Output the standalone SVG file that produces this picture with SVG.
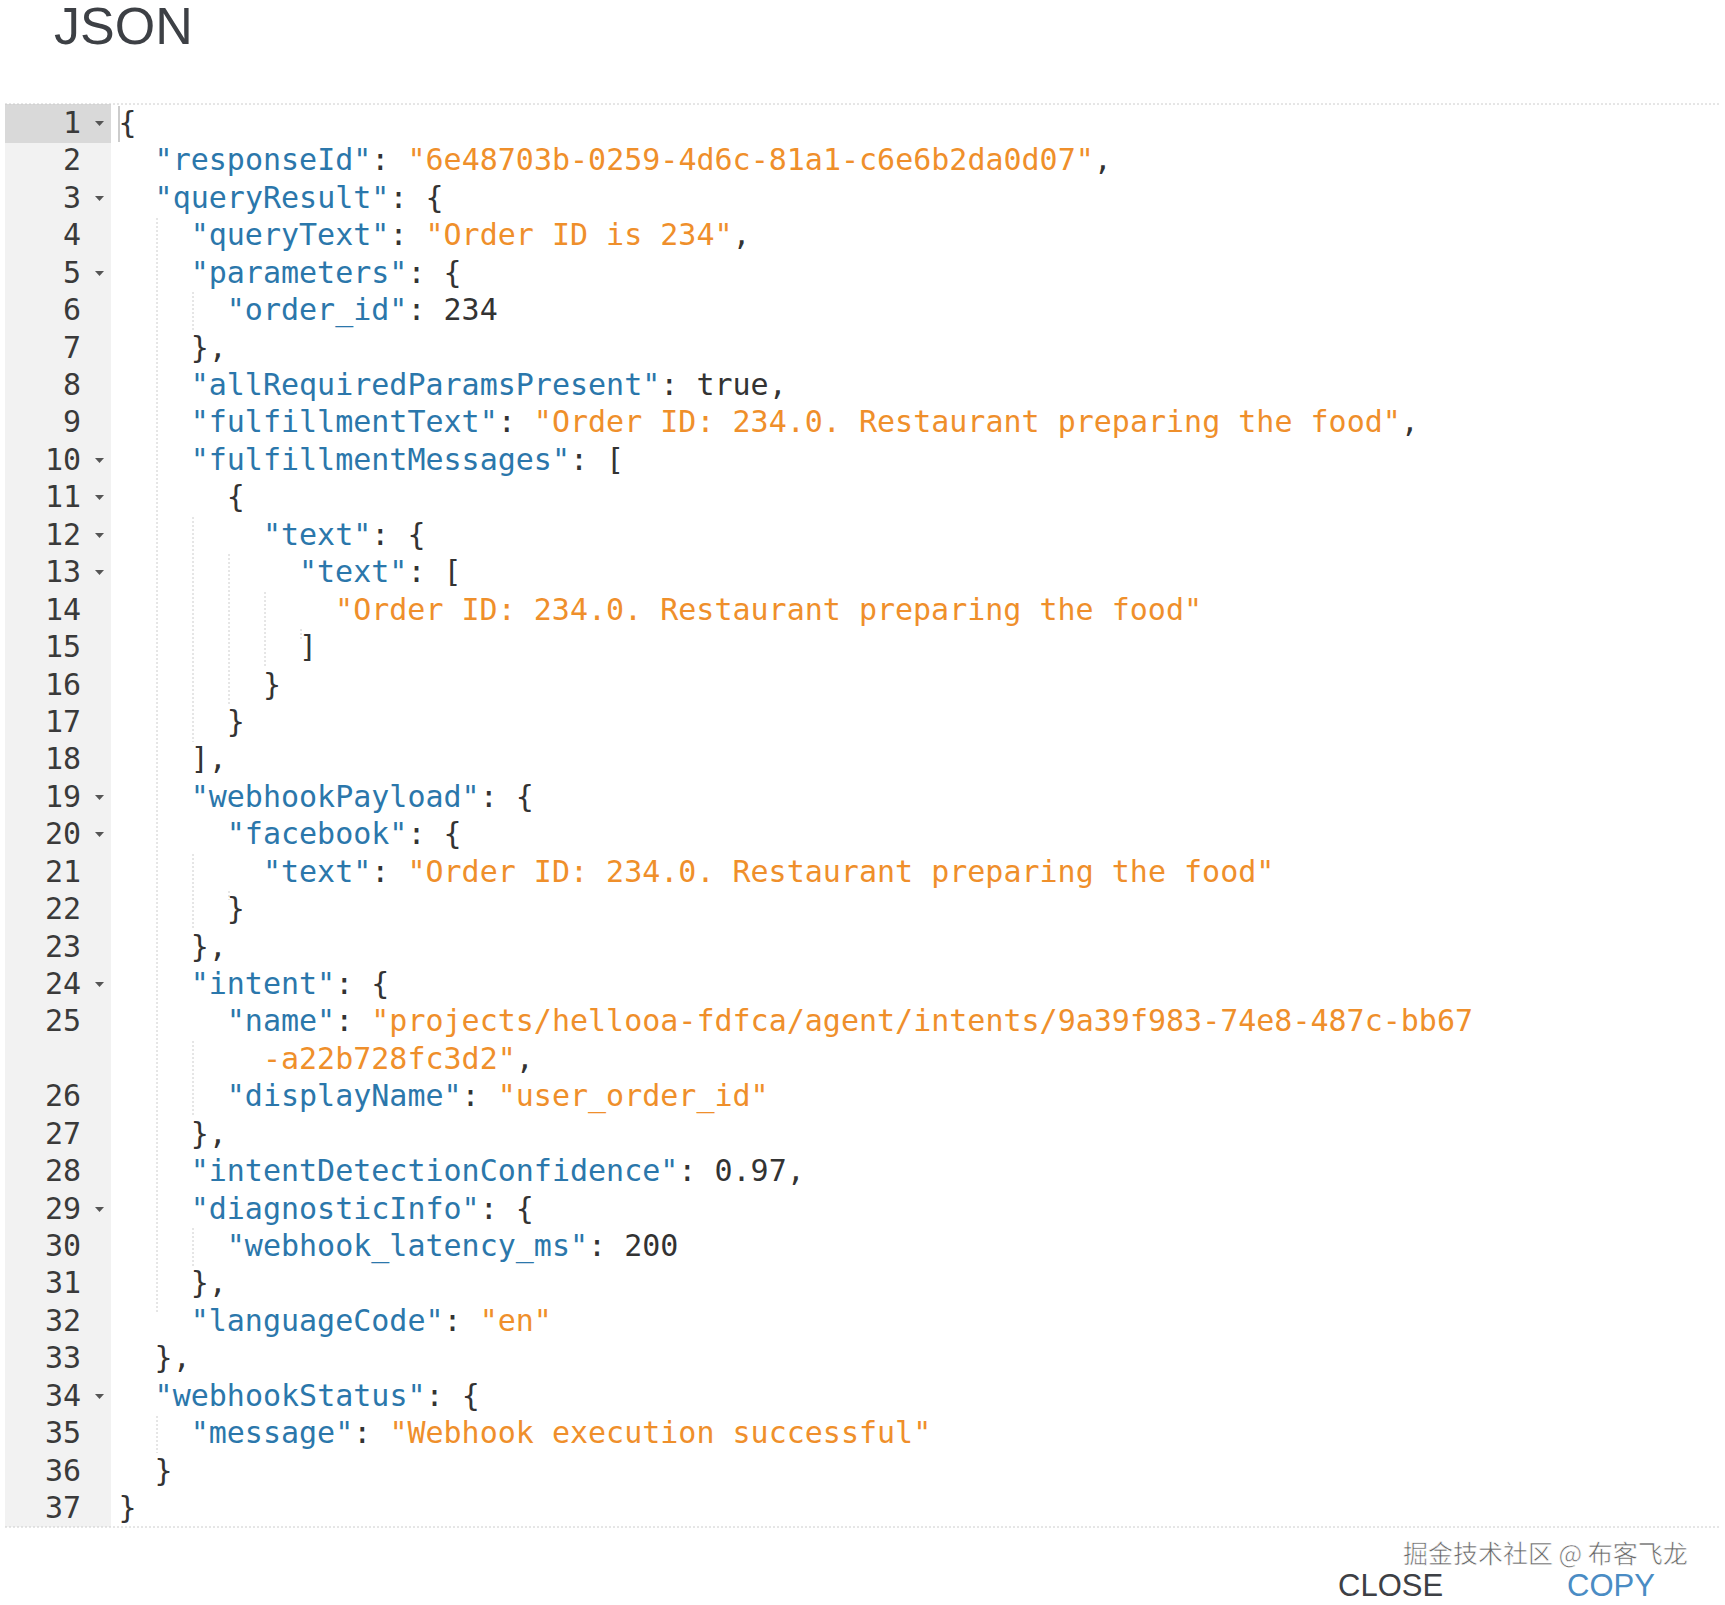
<svg xmlns="http://www.w3.org/2000/svg" width="1725" height="1605" viewBox="0 0 1725 1605">
<style>
text{font-family:"DejaVu Sans Mono","Liberation Mono",monospace;font-size:30px;white-space:pre;fill:#333}
.k{fill:#2b77ab}.s{fill:#ef8f2b}
.n{text-anchor:end;fill:#3a3a3a}
.ui{font-family:"Liberation Sans",Arial,sans-serif}
.g{stroke:#ccc;stroke-width:1;stroke-dasharray:2 2}
</style>
<rect width="1725" height="1605" fill="#fff"/>
<text class="ui" x="54" y="44" style="font-size:52px;fill:#3d4045">JSON</text>
<g id="editor">
<rect x="5" y="104" width="106" height="1423" fill="#f2f2f2"/>
<rect x="5" y="104" width="106" height="39" fill="#d9d9d9"/>
<line x1="5" y1="104" x2="1720" y2="104" class="g"/>
<line x1="5" y1="1527" x2="1720" y2="1527" class="g"/>
<line x1="119" y1="106" x2="119" y2="142" stroke="#ccc" stroke-width="2"/>
<g class="g">
<line x1="157" y1="218" x2="157" y2="1312"/>
<line x1="193" y1="292" x2="193" y2="330"/>
<line x1="193" y1="517" x2="193" y2="742"/>
<line x1="229" y1="554" x2="229" y2="705"/>
<line x1="265" y1="592" x2="265" y2="667"/>
<line x1="301" y1="629" x2="301" y2="640"/>
<line x1="193" y1="854" x2="193" y2="929"/>
<line x1="229" y1="891" x2="229" y2="900"/>
<line x1="193" y1="1041" x2="193" y2="1116"/>
<line x1="193" y1="1228" x2="193" y2="1266"/>
<line x1="157" y1="1416" x2="157" y2="1453"/>
</g>
</g>
<g id="numbers">
<text class="n" x="81" y="133">1</text><text class="n" x="81" y="170.4">2</text><text class="n" x="81" y="207.9">3</text><text class="n" x="81" y="245.3">4</text><text class="n" x="81" y="282.7">5</text><text class="n" x="81" y="320.2">6</text><text class="n" x="81" y="357.6">7</text><text class="n" x="81" y="395">8</text><text class="n" x="81" y="432.4">9</text><text class="n" x="81" y="469.9">10</text><text class="n" x="81" y="507.3">11</text><text class="n" x="81" y="544.7">12</text><text class="n" x="81" y="582.2">13</text><text class="n" x="81" y="619.6">14</text><text class="n" x="81" y="657">15</text><text class="n" x="81" y="694.5">16</text><text class="n" x="81" y="731.9">17</text><text class="n" x="81" y="769.3">18</text><text class="n" x="81" y="806.7">19</text><text class="n" x="81" y="844.2">20</text><text class="n" x="81" y="881.6">21</text><text class="n" x="81" y="919">22</text><text class="n" x="81" y="956.5">23</text><text class="n" x="81" y="993.9">24</text><text class="n" x="81" y="1031.3">25</text><text class="n" x="81" y="1106.2">26</text><text class="n" x="81" y="1143.6">27</text><text class="n" x="81" y="1181">28</text><text class="n" x="81" y="1218.5">29</text><text class="n" x="81" y="1255.9">30</text><text class="n" x="81" y="1293.3">31</text><text class="n" x="81" y="1330.8">32</text><text class="n" x="81" y="1368.2">33</text><text class="n" x="81" y="1405.6">34</text><text class="n" x="81" y="1443.1">35</text><text class="n" x="81" y="1480.5">36</text><text class="n" x="81" y="1517.9">37</text>
</g>
<g id="folds" fill="#555">
<path d="M95 121h9l-4.5 5z"/><path d="M95 196h9l-4.5 5z"/><path d="M95 271h9l-4.5 5z"/><path d="M95 458h9l-4.5 5z"/><path d="M95 495h9l-4.5 5z"/><path d="M95 533h9l-4.5 5z"/><path d="M95 570h9l-4.5 5z"/><path d="M95 795h9l-4.5 5z"/><path d="M95 832h9l-4.5 5z"/><path d="M95 982h9l-4.5 5z"/><path d="M95 1207h9l-4.5 5z"/><path d="M95 1394h9l-4.5 5z"/>
</g>
<g id="code">
<text x="118.5" y="133">{</text>
<text x="154.6" y="170.4"><tspan class="k">"responseId"</tspan>: <tspan class="s">"6e48703b-0259-4d6c-81a1-c6e6b2da0d07"</tspan>,</text>
<text x="154.6" y="207.9"><tspan class="k">"queryResult"</tspan>: {</text>
<text x="190.7" y="245.3"><tspan class="k">"queryText"</tspan>: <tspan class="s">"Order ID is 234"</tspan>,</text>
<text x="190.7" y="282.7"><tspan class="k">"parameters"</tspan>: {</text>
<text x="226.8" y="320.2"><tspan class="k">"order_id"</tspan>: 234</text>
<text x="190.7" y="357.6">},</text>
<text x="190.7" y="395"><tspan class="k">"allRequiredParamsPresent"</tspan>: true,</text>
<text x="190.7" y="432.4"><tspan class="k">"fulfillmentText"</tspan>: <tspan class="s">"Order ID: 234.0. Restaurant preparing the food"</tspan>,</text>
<text x="190.7" y="469.9"><tspan class="k">"fulfillmentMessages"</tspan>: [</text>
<text x="226.8" y="507.3">{</text>
<text x="262.9" y="544.7"><tspan class="k">"text"</tspan>: {</text>
<text x="299" y="582.2"><tspan class="k">"text"</tspan>: [</text>
<text x="335.1" y="619.6" class="s">"Order ID: 234.0. Restaurant preparing the food"</text>
<text x="299" y="657">]</text>
<text x="262.9" y="694.5">}</text>
<text x="226.8" y="731.9">}</text>
<text x="190.7" y="769.3">],</text>
<text x="190.7" y="806.7"><tspan class="k">"webhookPayload"</tspan>: {</text>
<text x="226.8" y="844.2"><tspan class="k">"facebook"</tspan>: {</text>
<text x="262.9" y="881.6"><tspan class="k">"text"</tspan>: <tspan class="s">"Order ID: 234.0. Restaurant preparing the food"</tspan></text>
<text x="226.8" y="919">}</text>
<text x="190.7" y="956.5">},</text>
<text x="190.7" y="993.9"><tspan class="k">"intent"</tspan>: {</text>
<text x="226.8" y="1031.3"><tspan class="k">"name"</tspan>: <tspan class="s">"projects/hellooa-fdfca/agent/intents/9a39f983-74e8-487c-bb67</tspan></text>
<text x="262.9" y="1068.8"><tspan class="s">-a22b728fc3d2"</tspan>,</text>
<text x="226.8" y="1106.2"><tspan class="k">"displayName"</tspan>: <tspan class="s">"user_order_id"</tspan></text>
<text x="190.7" y="1143.6">},</text>
<text x="190.7" y="1181"><tspan class="k">"intentDetectionConfidence"</tspan>: 0.97,</text>
<text x="190.7" y="1218.5"><tspan class="k">"diagnosticInfo"</tspan>: {</text>
<text x="226.8" y="1255.9"><tspan class="k">"webhook_latency_ms"</tspan>: 200</text>
<text x="190.7" y="1293.3">},</text>
<text x="190.7" y="1330.8"><tspan class="k">"languageCode"</tspan>: <tspan class="s">"en"</tspan></text>
<text x="154.6" y="1368.2">},</text>
<text x="154.6" y="1405.6"><tspan class="k">"webhookStatus"</tspan>: {</text>
<text x="190.7" y="1443.1"><tspan class="k">"message"</tspan>: <tspan class="s">"Webhook execution successful"</tspan></text>
<text x="154.6" y="1480.5">}</text>
<text x="118.5" y="1517.9">}</text>
</g>
<g id="footer">
<text x="1403" y="1563" style="font-family:'Noto Sans CJK SC',sans-serif;font-size:25px;fill:#666;stroke:#fff;stroke-width:0.6">掘金技术社区 @ 布客飞龙</text>
<text class="ui" x="1338" y="1596" style="font-size:31px;fill:#3d4045">CLOSE</text>
<text class="ui" x="1567" y="1596" style="font-size:31px;fill:#4a8cc4">COPY</text>
</g>
</svg>
